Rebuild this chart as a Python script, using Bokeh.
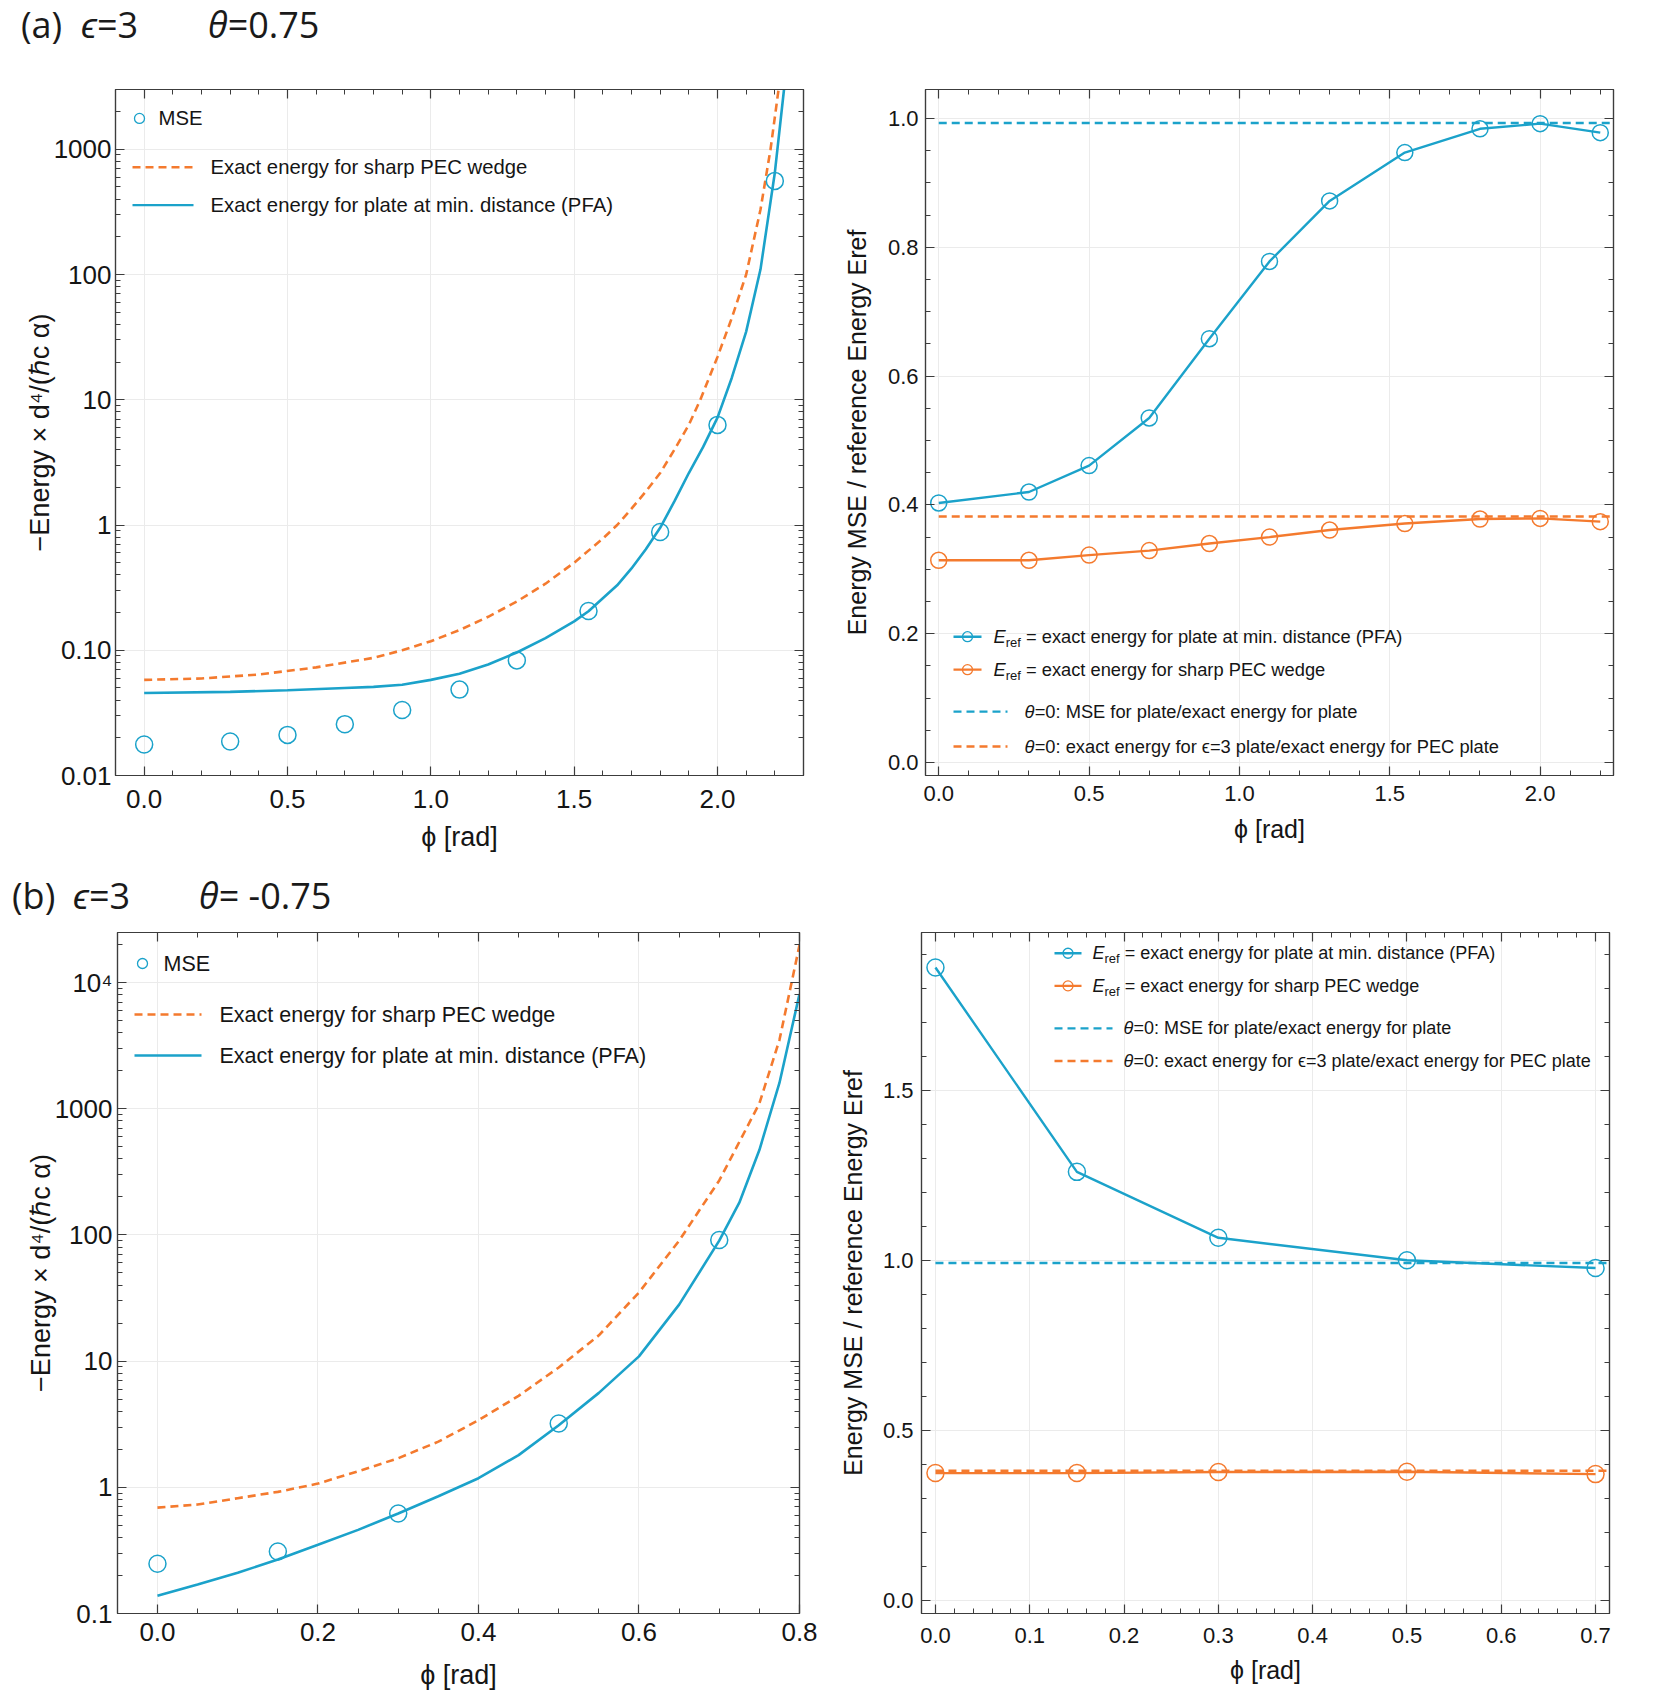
import math
from bokeh.plotting import figure
from bokeh.models import (LinearAxis, LogAxis, FixedTicker, SingleIntervalTicker,
                          Range1d, Div, PrintfTickFormatter)
from bokeh.core.properties import value
from bokeh.layouts import column, row
from bokeh.embed import file_html
from bokeh.resources import INLINE

# ---------------- data ----------------
# panel (a): epsilon=3, theta=0.75
A_PHI = [0.0, 0.3, 0.5, 0.7, 0.9, 1.1, 1.3, 1.55, 1.8, 2.0, 2.2]
A_MSE = [0.0177, 0.0187, 0.0211, 0.0257, 0.0333, 0.0485, 0.083, 0.206, 0.88, 6.3, 559]
A_PFA_PHI = [0.0, 0.3, 0.5, 0.7, 0.8, 0.9, 1.0, 1.1, 1.2, 1.3, 1.4, 1.5, 1.55, 1.6, 1.65,
             1.7, 1.75, 1.8, 1.85, 1.9, 1.95, 2.0, 2.05, 2.1, 2.15, 2.2, 2.232]
A_PFA = [0.0456, 0.0465, 0.048, 0.050, 0.051, 0.053, 0.058, 0.065, 0.077, 0.096, 0.125,
         0.17, 0.205, 0.26, 0.33, 0.45, 0.64, 0.95, 1.55, 2.6, 4.2, 7.2, 15, 35, 110,
         650, 3000]
A_WEDGE_PHI = [0.0, 0.2, 0.4, 0.6, 0.8, 0.9, 1.0, 1.1, 1.2, 1.3, 1.4, 1.5, 1.6, 1.65,
               1.7, 1.75, 1.8, 1.85, 1.9, 1.94, 2.0, 2.05, 2.1, 2.15, 2.185, 2.213]
A_WEDGE = [0.058, 0.0595, 0.064, 0.073, 0.087, 0.100, 0.118, 0.145, 0.185, 0.245, 0.34,
           0.50, 0.78, 1.0, 1.35, 1.85, 2.6, 4.0, 6.3, 10, 22, 45, 100, 330, 1000, 3000]
A_RATIO_PFA = [0.403, 0.420, 0.461, 0.535, 0.658, 0.778, 0.872, 0.947, 0.984, 0.992, 0.978]
A_RATIO_WEDGE = [0.314, 0.314, 0.322, 0.329, 0.340, 0.350, 0.361, 0.371, 0.378, 0.379, 0.374]

# panel (b): epsilon=3, theta=-0.75
B_PHI = [0.0, 0.15, 0.3, 0.5, 0.7]
B_MSE = [0.248, 0.31, 0.62, 3.2, 91]
B_PFA_PHI = [0.0, 0.05, 0.1, 0.15, 0.2, 0.25, 0.3, 0.35, 0.4, 0.45, 0.5, 0.55, 0.6,
             0.65, 0.7, 0.725, 0.75, 0.775, 0.8]
B_PFA = [0.138, 0.17, 0.21, 0.268, 0.35, 0.46, 0.62, 0.85, 1.18, 1.8, 3.1, 5.6, 10.9,
         28, 90, 180, 470, 1600, 8100]
B_WEDGE_PHI = [0.0, 0.05, 0.1, 0.15, 0.2, 0.25, 0.3, 0.35, 0.4, 0.45, 0.5, 0.55, 0.6,
               0.65, 0.7, 0.75, 0.775, 0.8]
B_WEDGE = [0.69, 0.73, 0.82, 0.92, 1.07, 1.34, 1.7, 2.3, 3.4, 5.3, 8.9, 16, 35, 90,
           270, 1100, 3500, 19800]
B_RATIO_PFA = [1.862, 1.261, 1.067, 1.001, 0.978]
B_RATIO_WEDGE = [0.375, 0.375, 0.378, 0.379, 0.372]

# theta = 0 reference ratios (dashed lines)
THETA0_PLATE = 0.993
THETA0_EPS = 0.382

# axis ranges
A_L_X = (-0.1, 2.3)
A_L_Y = (0.01, 3000)
A_R_X = (-0.044, 2.244)
A_R_Y = (-0.0202, 1.045)
B_L_X = (-0.0498, 0.8)
B_L_Y = (0.1, 24900)
B_R_X = (-0.0148, 0.7148)
B_R_Y = (-0.038, 1.965)

# tick labels
A_LOG_TICKS = [0.01, 0.1, 1, 10, 100, 1000]
A_LOG_LABELS = ["0.01", "0.10", "1", "10", "100", "1000"]
B_LOG_TICKS = [0.1, 1, 10, 100, 1000, 10000]
B_LOG_LABELS = ["0.1", "1", "10", "100", "1000", "10\u2074"]

# texts
X_LABEL = "\u03d5 [rad]"
Y_LABEL_L = "\u2212Energy \u00d7 d\u2074/(\u210fc \u03b1)"
Y_LABEL_R = "Energy MSE / reference Energy Eref"
LEG_MSE = "MSE"
LEG_WEDGE = "Exact energy for sharp PEC wedge"
LEG_PFA = "Exact energy for plate at min. distance (PFA)"
LEG_R_PFA = "= exact energy for plate at min. distance (PFA)"
LEG_R_WEDGE = "= exact energy for sharp PEC wedge"
LEG_R_T0_PLATE = "=0: MSE for plate/exact energy for plate"
LEG_R_T0_EPS = "=0: exact energy for \u03f5=3 plate/exact energy for PEC plate"

# ---------------- style ----------------
BLUE = "#1ba2ca"
ORANGE = "#f47a2e"
FRAME = "#3c3c3c"
GRID = "#ebebeb"
FONT = "Liberation Sans"
TXT = "#151515"
DASH = "8 5"


def log_minor(lo_exp, hi_exp):
    return [k * 10.0 ** e for e in range(lo_exp, hi_exp + 1) for k in range(2, 10)]


class Geo:
    """frame geometry, used to place legend entries at pixel offsets inside the frame"""
    def __init__(self, xr, yr, ylog, fw, fh):
        self.xr, self.yr, self.ylog, self.fw, self.fh = xr, yr, ylog, fw, fh

    def x(self, px):
        return self.xr[0] + px / self.fw * (self.xr[1] - self.xr[0])

    def y(self, py):
        if self.ylog:
            lo, hi = math.log10(self.yr[0]), math.log10(self.yr[1])
            return 10 ** (hi - py / self.fh * (hi - lo))
        return self.yr[1] - py / self.fh * (self.yr[1] - self.yr[0])


def base_fig(w, h, bl, br, bt, bb, xr, yr, ylog):
    p = figure(width=w, height=h, x_range=Range1d(*xr), y_range=Range1d(*yr),
               y_axis_type="log" if ylog else "linear", toolbar_location=None,
               output_backend="svg", min_border_left=bl, min_border_right=br,
               min_border_top=bt, min_border_bottom=bb)
    p.outline_line_color = FRAME
    p.outline_line_width = 1.2
    p.border_fill_color = "white"
    p.background_fill_color = "white"
    return p


def setup_axes(p, xticker, yticker, ylog, tick_fs, label_fs, ylabel,
               x_ls, x_as, y_ls, y_as, y_overrides=None):
    xa = p.xaxis[0]
    ya = p.yaxis[0]
    xa.ticker = xticker
    ya.ticker = yticker
    p.xgrid.ticker = xticker
    p.ygrid.ticker = yticker
    xa.formatter = PrintfTickFormatter(format="%.1f")
    if not ylog:
        ya.formatter = PrintfTickFormatter(format="%.1f")
    for g in (p.xgrid, p.ygrid):
        g.grid_line_color = GRID
        g.grid_line_width = 1
    top = LinearAxis(ticker=xticker)
    right = (LogAxis if ylog else LinearAxis)(ticker=yticker)
    p.add_layout(top, "above")
    p.add_layout(right, "right")
    for ax in (xa, ya, top, right):
        ax.axis_line_color = FRAME
        ax.axis_line_width = 1.2
        ax.major_tick_line_color = FRAME
        ax.minor_tick_line_color = FRAME
        ax.major_tick_line_width = 1.2
        ax.minor_tick_line_width = 1
        ax.major_tick_in = 9
        ax.major_tick_out = 0
        ax.minor_tick_in = 5
        ax.minor_tick_out = 0
        ax.major_label_text_font = FONT
        ax.major_label_text_color = TXT
        ax.axis_label_text_font = FONT
        ax.axis_label_text_font_style = "normal"
        ax.axis_label_text_color = TXT
        ax.axis_label_text_font_size = f"{label_fs}px"
    for ax in (top, right):
        ax.major_label_text_font_size = "2px"
        ax.major_label_text_color = None
        ax.major_label_standoff = 0
    for ax in (xa, ya):
        ax.major_label_text_font_size = f"{tick_fs}px"
    xa.major_label_standoff = x_ls
    xa.axis_label_standoff = x_as
    ya.major_label_standoff = y_ls
    ya.axis_label_standoff = y_as
    xa.axis_label = X_LABEL
    ya.axis_label = ylabel
    if y_overrides:
        ya.major_label_overrides = y_overrides


def leg_sample(p, g, x0, x1, yy, color, dash=None, marker=False, msize=10):
    kw = dict(line_color=color, line_width=2.4)
    if dash:
        kw["line_dash"] = dash
    p.line([g.x(x0), g.x(x1)], [g.y(yy), g.y(yy)], **kw)
    if marker:
        p.scatter([g.x((x0 + x1) / 2.0)], [g.y(yy)], marker="circle", size=msize,
                  fill_color=None, line_color=color, line_width=1.3)


def leg_marker(p, g, xx, yy, color, msize=10):
    p.scatter([g.x(xx)], [g.y(yy)], marker="circle", size=msize,
              fill_color=None, line_color=color, line_width=1.3)


def leg_text(p, g, xx, yy, txt, fs, dx=0, dy=0, style="normal"):
    p.text(x=[g.x(xx)], y=[g.y(yy)], text=[txt], x_offset=dx, y_offset=dy,
           text_font=value(FONT), text_font_size=value(f"{fs}px"),
           text_font_style=style, text_color=TXT, text_align="left",
           text_baseline="middle")


def leg_eref(p, g, xx, yy, rest, fs):
    # italic E with subscript "ref", then the rest of the entry
    w_e = 0.667 * fs
    sub = round(fs * 0.7)
    w_ref = 1.167 * sub
    leg_text(p, g, xx, yy, "E", fs, style="italic")
    leg_text(p, g, xx, yy, "ref", sub, dx=w_e, dy=fs * 0.3)
    leg_text(p, g, xx, yy, rest, fs, dx=w_e + w_ref + 0.278 * fs)


def leg_theta(p, g, xx, yy, rest, fs):
    leg_text(p, g, xx, yy, "\u03b8", fs, style="italic")
    leg_text(p, g, xx, yy, rest, fs, dx=0.556 * fs)


# ---------------- panel (a) left ----------------
ga1 = Geo(A_L_X, A_L_Y, True, 688, 688)
fa1 = base_fig(822, 817, 107, 27, 41, 88, A_L_X, A_L_Y, True)
setup_axes(fa1, SingleIntervalTicker(interval=0.5, num_minor_ticks=5),
           FixedTicker(ticks=A_LOG_TICKS, minor_ticks=log_minor(-2, 3)), True,
           26, 27, Y_LABEL_L, 14, 11, 4, -4, dict(zip(A_LOG_TICKS, A_LOG_LABELS)))
fa1.line(A_WEDGE_PHI, A_WEDGE, line_color=ORANGE, line_width=2.6, line_dash=DASH)
fa1.line(A_PFA_PHI, A_PFA, line_color=BLUE, line_width=2.6)
fa1.scatter(A_PHI, A_MSE, marker="circle", size=17, fill_color=None,
            line_color=BLUE, line_width=1.5)
leg_marker(fa1, ga1, 24, 29, BLUE)
leg_text(fa1, ga1, 43, 29, LEG_MSE, 20.3)
leg_sample(fa1, ga1, 17, 78, 78, ORANGE, dash=DASH)
leg_text(fa1, ga1, 95, 78, LEG_WEDGE, 20.3)
leg_sample(fa1, ga1, 17, 78, 116, BLUE)
leg_text(fa1, ga1, 95, 116, LEG_PFA, 20.3)

# ---------------- panel (a) right ----------------
ga2 = Geo(A_R_X, A_R_Y, False, 688, 687)
fa2 = base_fig(823, 817, 95, 40, 40, 90, A_R_X, A_R_Y, False)
setup_axes(fa2, SingleIntervalTicker(interval=0.5, num_minor_ticks=5),
           SingleIntervalTicker(interval=0.2, num_minor_ticks=4), False,
           22, 25, Y_LABEL_R, 10, 11, 7, 14)
fa2.line([0, A_R_X[1]], [THETA0_PLATE, THETA0_PLATE], line_color=BLUE,
         line_width=2.4, line_dash=DASH)
fa2.line([0, A_R_X[1]], [THETA0_EPS, THETA0_EPS], line_color=ORANGE,
         line_width=2.4, line_dash=DASH)
fa2.line(A_PHI, A_RATIO_PFA, line_color=BLUE, line_width=2.4)
fa2.scatter(A_PHI, A_RATIO_PFA, marker="circle", size=16, fill_color=None,
            line_color=BLUE, line_width=1.5)
fa2.line(A_PHI, A_RATIO_WEDGE, line_color=ORANGE, line_width=2.4)
fa2.scatter(A_PHI, A_RATIO_WEDGE, marker="circle", size=16, fill_color=None,
            line_color=ORANGE, line_width=1.5)
leg_sample(fa2, ga2, 28, 56, 548, BLUE, marker=True)
leg_eref(fa2, ga2, 68, 548, LEG_R_PFA, 18.3)
leg_sample(fa2, ga2, 28, 56, 581, ORANGE, marker=True)
leg_eref(fa2, ga2, 68, 581, LEG_R_WEDGE, 18.3)
leg_sample(fa2, ga2, 28, 82, 623, BLUE, dash=DASH)
leg_theta(fa2, ga2, 99, 623, LEG_R_T0_PLATE, 18.3)
leg_sample(fa2, ga2, 28, 82, 658, ORANGE, dash=DASH)
leg_theta(fa2, ga2, 99, 658, LEG_R_T0_EPS, 18.3)

# ---------------- panel (b) left ----------------
gb1 = Geo(B_L_X, B_L_Y, True, 682, 681)
fb1 = base_fig(822, 781, 109, 31, 17, 83, B_L_X, B_L_Y, True)
setup_axes(fb1, SingleIntervalTicker(interval=0.2, num_minor_ticks=4),
           FixedTicker(ticks=B_LOG_TICKS, minor_ticks=log_minor(-1, 4)), True,
           26, 27, Y_LABEL_L, 9, 16, 5, -4, dict(zip(B_LOG_TICKS, B_LOG_LABELS)))
fb1.line(B_WEDGE_PHI, B_WEDGE, line_color=ORANGE, line_width=2.6, line_dash=DASH)
fb1.line(B_PFA_PHI, B_PFA, line_color=BLUE, line_width=2.6)
fb1.scatter(B_PHI, B_MSE, marker="circle", size=17, fill_color=None,
            line_color=BLUE, line_width=1.5)
leg_marker(fb1, gb1, 25, 31, BLUE)
leg_text(fb1, gb1, 46, 31, LEG_MSE, 21.5)
leg_sample(fb1, gb1, 17, 84, 82, ORANGE, dash=DASH)
leg_text(fb1, gb1, 102, 82, LEG_WEDGE, 21.5)
leg_sample(fb1, gb1, 17, 84, 123, BLUE)
leg_text(fb1, gb1, 102, 123, LEG_PFA, 21.5)

# ---------------- panel (b) right ----------------
gb2 = Geo(B_R_X, B_R_Y, False, 688, 689)
fb2 = base_fig(823, 781, 91, 44, 13, 79, B_R_X, B_R_Y, False)
setup_axes(fb2, SingleIntervalTicker(interval=0.1, num_minor_ticks=5),
           SingleIntervalTicker(interval=0.5, num_minor_ticks=5), False,
           22, 25, Y_LABEL_R, 14, 10, 8, 13)
fb2.line([0, B_R_X[1]], [THETA0_PLATE, THETA0_PLATE], line_color=BLUE,
         line_width=2.4, line_dash=DASH)
fb2.line([0, B_R_X[1]], [THETA0_EPS, THETA0_EPS], line_color=ORANGE,
         line_width=2.4, line_dash=DASH)
fb2.line(B_PHI, B_RATIO_PFA, line_color=BLUE, line_width=2.4)
fb2.scatter(B_PHI, B_RATIO_PFA, marker="circle", size=17, fill_color=None,
            line_color=BLUE, line_width=1.5)
fb2.line(B_PHI, B_RATIO_WEDGE, line_color=ORANGE, line_width=2.4)
fb2.scatter(B_PHI, B_RATIO_WEDGE, marker="circle", size=17, fill_color=None,
            line_color=ORANGE, line_width=1.5)
leg_sample(fb2, gb2, 133, 160, 21, BLUE, marker=True)
leg_eref(fb2, gb2, 171, 21, LEG_R_PFA, 18)
leg_sample(fb2, gb2, 133, 160, 54, ORANGE, marker=True)
leg_eref(fb2, gb2, 171, 54, LEG_R_WEDGE, 18)
leg_sample(fb2, gb2, 133, 191, 97, BLUE, dash=DASH)
leg_theta(fb2, gb2, 202, 97, LEG_R_T0_PLATE, 18)
leg_sample(fb2, gb2, 133, 191, 130, ORANGE, dash=DASH)
leg_theta(fb2, gb2, 202, 130, LEG_R_T0_EPS, 18)


# ---------------- titles ----------------
def title_div(h, parts):
    spans = "".join(
        f'<span style="position:absolute;display:block;left:{x}px;top:{t}px;'
        f'line-height:1;white-space:pre;">{s}</span>' for x, t, s in parts)
    html = (f'<div style="position:relative;width:1645px;height:{h}px;'
            f'font-family:\'Open Sans\',sans-serif;font-size:36px;color:#1a1a1a;">'
            f'{spans}</div>')
    return Div(text=html, width=1645, height=h, margin=0)


TITLE_A = [(13, -1, "(a)"), (73, -1, "<i>\u03f5</i>=3"), (200, -1, "<i>\u03b8</i>=0.75")]
TITLE_B = [(4, 13, "(b)"), (65, 13, "<i>\u03f5</i>=3"), (191, 13, "<i>\u03b8</i>= -0.75")]

layout = column(title_div(40, TITLE_A), row(fa1, fa2),
                title_div(50, TITLE_B), row(fb1, fb2), margin=(8, 0, 0, 8))

open("out.html", "w").write(file_html(layout, INLINE))
